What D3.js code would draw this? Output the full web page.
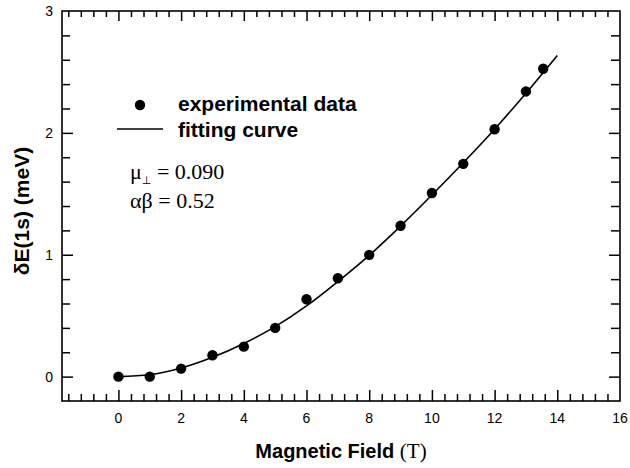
<!DOCTYPE html>
<html>
<head>
<meta charset="utf-8">
<script src="https://cdn.jsdelivr.net/npm/d3@7"></script>
<style>
  body { margin: 0; background: #fff; }
  svg { display: block; }
</style>
</head>
<body>
<div id="chart"></div>
<script>
// measured points: field (T) -> dE(1s) (meV)
const fieldValues = [0, 1, 2, 3, 4, 5, 6, 7, 8, 9, 10, 11, 12, 13, 13.55]
const energyValues = [0, 0, 0.066, 0.175, 0.246, 0.40, 0.635, 0.807, 0.999, 1.238, 1.507, 1.746, 2.03, 2.34, 2.526]

// fitting curve
const fitField = [0, 1, 2, 3, 4, 5, 6, 7, 8, 9, 10, 11, 12, 13, 14]
const fitEnergy = [0, 0.015, 0.07, 0.158, 0.272, 0.41, 0.58, 0.78, 0.995, 1.235, 1.49, 1.755, 2.03, 2.325, 2.635]

const xMajorTicks = [0, 2, 4, 6, 8, 10, 12, 14, 16]
const yMajorTicks = [0, 1, 2, 3]

const legendLabels = ['experimental data', 'fitting curve']
const paramLabels = [['μ', '⊥', ' = 0.090'], ['αβ', '', ' = 0.52']]

const dimensions = {
  width: 630,
  height: 468,
  margin: { top: 11, right: 10, bottom: 67, left: 62 }
}

const svg = d3.select('#chart').append('svg')
  .attr('width', dimensions.width)
  .attr('height', dimensions.height)

const x = d3.scaleLinear()
  .domain([-1.8, 16])
  .range([dimensions.margin.left, dimensions.width - dimensions.margin.right])
const y = d3.scaleLinear()
  .domain([-0.2, 3])
  .range([dimensions.height - dimensions.margin.bottom, dimensions.margin.top])

const x0 = x.range()[0]
const x1 = x.range()[1]
const y0 = y.range()[0]
const y1 = y.range()[1]

// minor ticks
const xMinor = d3.range(-1.6, 16.01, 0.4).map(v => +v.toFixed(2))
  .filter(v => !xMajorTicks.some(m => Math.abs(m - v) < 1e-6))
const yMinor = d3.range(-0.2, 3.01, 0.2).map(v => +v.toFixed(2))
  .filter(v => !yMajorTicks.some(m => Math.abs(m - v) < 1e-6) && v > -0.15 && v < 2.95)

function drawAxis (axis, transform, major, minor, majorLen, minorLen) {
  const gMaj = svg.append('g').attr('transform', transform)
    .call(axis.tickValues(major).tickSize(majorLen).tickFormat(''))
  const gMin = svg.append('g').attr('transform', transform)
    .call(axis.tickValues(minor).tickSize(minorLen).tickFormat(''))
  ;[gMaj, gMin].forEach(g => {
    g.select('.domain').remove()
    g.selectAll('.tick line').attr('stroke', '#000').attr('stroke-width', 1.5)
  })
}

// ticks pointing inward on all four sides
drawAxis(d3.axisTop(x), `translate(0,${y0})`, xMajorTicks.filter(v => v < 16), xMinor, 11, 7)
drawAxis(d3.axisBottom(x), `translate(0,${y1})`, xMajorTicks.filter(v => v < 16), xMinor, 10, 6)
drawAxis(d3.axisRight(y), `translate(${x0},0)`, yMajorTicks.filter(v => v < 3), yMinor, 11, 8)
drawAxis(d3.axisLeft(y), `translate(${x1},0)`, yMajorTicks.filter(v => v < 3), yMinor, 11, 9)

// frame
svg.append('rect')
  .attr('x', x0)
  .attr('y', y1)
  .attr('width', x1 - x0)
  .attr('height', y0 - y1)
  .attr('fill', 'none')
  .attr('stroke', '#000')
  .attr('stroke-width', 1.6)

// tick labels
svg.append('g')
  .selectAll('text')
  .data(xMajorTicks)
  .join('text')
  .attr('x', d => x(d))
  .attr('y', y0 + 22)
  .attr('text-anchor', 'middle')
  .attr('font-family', 'Liberation Sans, Arial, sans-serif')
  .attr('font-size', 14)
  .text(d => d)

svg.append('g')
  .selectAll('text')
  .data(yMajorTicks)
  .join('text')
  .attr('x', x0 - 9)
  .attr('y', d => y(d) + 5)
  .attr('text-anchor', 'end')
  .attr('font-family', 'Liberation Sans, Arial, sans-serif')
  .attr('font-size', 14)
  .text(d => d)

// axis titles
const xTitle = svg.append('text')
  .attr('x', (x0 + x1) / 2)
  .attr('y', 458)
  .attr('text-anchor', 'middle')
xTitle.append('tspan')
  .attr('font-family', 'Liberation Sans, Arial, sans-serif')
  .attr('font-weight', 'bold')
  .attr('font-size', 20)
  .text('Magnetic Field ')
xTitle.append('tspan')
  .attr('font-family', 'Liberation Serif, Times New Roman, serif')
  .attr('font-size', 21)
  .text('(T)')

svg.append('text')
  .attr('transform', `translate(29,${(y0 + y1) / 2 + 5}) rotate(-90)`)
  .attr('text-anchor', 'middle')
  .attr('font-family', 'Liberation Sans, Arial, sans-serif')
  .attr('font-weight', 'bold')
  .attr('font-size', 21)
  .text('δE(1s) (meV)')

// fitting curve
const fitData = fitField.map((f, i) => ({ f, e: fitEnergy[i] }))
svg.append('path')
  .datum(fitData)
  .attr('fill', 'none')
  .attr('stroke', '#000')
  .attr('stroke-width', 1.6)
  .attr('d', d3.line().x(d => x(d.f)).y(d => y(d.e)).curve(d3.curveMonotoneX))

// experimental points
const pointData = fieldValues.map((f, i) => ({ f, e: energyValues[i] }))
svg.append('g')
  .selectAll('circle')
  .data(pointData)
  .join('circle')
  .attr('cx', d => x(d.f))
  .attr('cy', d => y(d.e))
  .attr('r', 5.2)
  .attr('fill', '#000')

// legend
const legend = svg.append('g')
legend.append('circle')
  .attr('cx', 140)
  .attr('cy', 105)
  .attr('r', 5.2)
  .attr('fill', '#000')
legend.append('line')
  .attr('x1', 117)
  .attr('x2', 163)
  .attr('y1', 129)
  .attr('y2', 129)
  .attr('stroke', '#000')
  .attr('stroke-width', 1.6)
legend.selectAll('text')
  .data(legendLabels)
  .join('text')
  .attr('x', 178)
  .attr('y', (d, i) => 111 + i * 26)
  .attr('font-family', 'Liberation Sans, Arial, sans-serif')
  .attr('font-weight', 'bold')
  .attr('font-size', 21)
  .text(d => d)

// fit parameters
const params = svg.append('g')
  .selectAll('text')
  .data(paramLabels)
  .join('text')
  .attr('x', 130)
  .attr('y', (d, i) => 179 + i * 29)
  .attr('fill', '#000')
  .attr('font-family', 'Liberation Serif, Times New Roman, serif')
  .attr('font-size', 22)
params.append('tspan').text(d => d[0])
params.append('tspan')
  .attr('font-family', 'DejaVu Sans, sans-serif')
  .attr('fill', '#000')
  .attr('font-size', 11)
  .attr('dy', 5)
  .text(d => d[1])
params.append('tspan')
  .attr('dy', d => d[1] ? -5 : 0)
  .text(d => d[2])
</script>
</body>
</html>
